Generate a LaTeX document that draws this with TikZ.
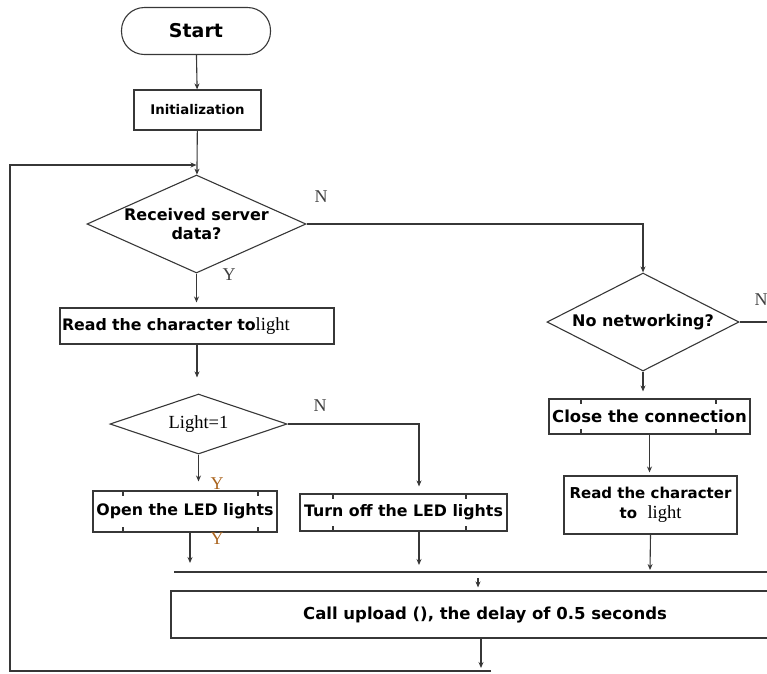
\documentclass[tikz,border=0pt]{standalone}
\usepackage{fontspec}
\setmainfont{Liberation Serif}
\newfontfamily\boldsans{DejaVu Sans}
\usetikzlibrary{arrows.meta,shapes.geometric}
\definecolor{ln}{RGB}{55,55,55}
\definecolor{ylab}{RGB}{170,100,30}
\tikzset{
  arr/.style={-{Stealth[length=6pt,width=5pt]}},
  bs/.style={font=\boldsans\bfseries\fontsize{15.8}{18}\selectfont},
  bsl/.style={font=\boldsans\bfseries\fontsize{16.5}{18}\selectfont},
  box/.style={draw=ln,rectangle,inner sep=1pt,bs},
  dia/.style={draw=ln,diamond,inner sep=0pt,bs},
  lab/.style={font=\fontsize{18}{19}\selectfont,inner sep=0pt,text=black!75},
  tickbox/.style 2 args={box,path picture={
     \draw[line width=1.1pt] ([xshift=#1]path picture bounding box.north west) -- ++(0,-5pt);
     \draw[line width=1.1pt] ([xshift=-#2]path picture bounding box.north east) -- ++(0,-5pt);
     \draw[line width=1.1pt] ([xshift=#1]path picture bounding box.south west) -- ++(0,5pt);
     \draw[line width=1.1pt] ([xshift=-#2]path picture bounding box.south east) -- ++(0,5pt);
  }},
}
\begin{document}
\begin{tikzpicture}[x=1pt,y=-1pt,line width=1.1pt,color=ln,every node/.style={text=black}]
\useasboundingbox (0,0) rectangle (767,673);
\clip (0,0) rectangle (767,673);
% nodes
\node[draw=ln,rounded corners=23pt,minimum width=149pt,minimum height=47pt,
  font=\boldsans\bfseries\fontsize{19}{22}\selectfont] (start) at (196,31) {Start};
\node[box,minimum width=127pt,minimum height=40pt,font=\boldsans\bfseries\fontsize{13.3}{15}\selectfont] (init) at (197.5,110) {Initialization};
\node[dia,minimum width=219pt,minimum height=98pt,shape aspect=2.23,inner sep=-3pt,align=center,font=\boldsans\bfseries\fontsize{16}{19}\selectfont] (d1) at (196.5,224) {Received server\\data?};
\node[box,minimum width=274pt,minimum height=36pt,text width=270pt,align=left] (read1) at (197,326) {Read the character to{\rmfamily\mdseries\fontsize{18.5}{20}\selectfont light}};
\node[dia,minimum width=177pt,minimum height=60pt,shape aspect=2.95,font=\fontsize{18.5}{20}\selectfont] (d3) at (198.5,424) {Light=1};
\node[tickbox={30pt}{19pt},minimum width=184pt,minimum height=41pt,inner sep=0pt] (open) at (185,511.5) {Open the LED lights};
\node[tickbox={33pt}{41pt},minimum width=207pt,minimum height=37pt,inner sep=0pt] (off) at (403.5,512.5) {Turn off the LED lights};
\node[dia,minimum width=192pt,minimum height=98pt,shape aspect=1.96,inner sep=-3pt,font=\boldsans\bfseries\fontsize{16}{19}\selectfont] (d2) at (643,322) {No networking?};
\node[tickbox={32pt}{34pt},minimum width=201pt,minimum height=35pt,inner sep=0pt,bsl] (close) at (649.5,416.5) {Close the connection};
\node[box,minimum width=173pt,minimum height=58pt,align=center,font=\boldsans\bfseries\fontsize{15}{20}\selectfont] (read2) at (650.5,505) {Read the character\\to~~{\rmfamily\mdseries\fontsize{18.5}{20}\selectfont light}};
\node[box,minimum width=628pt,minimum height=47pt,bsl] (upload) at (485,614.5) {Call upload (), the delay of 0.5 seconds};
% coordinates
\coordinate (openE) at (190,563);
\coordinate (offE) at (419,565);
\coordinate (busL) at (174,572);
\coordinate (busR) at (767,572);
\coordinate (upT) at (478,578);
\coordinate (read2E) at (650,570);
\coordinate (upB) at (481,668);
\coordinate (loopR) at (491,671);
\coordinate (loopL) at (10,671);
\coordinate (loopT) at (10,165);
\coordinate (d2R) at (767,322);
% connectors
\draw[arr] (start) -- (init);
\draw[arr] (init) -- (d1);
\draw[arr] (loopR) -- (loopL) -- (loopT) -- (loopT -| d1.north);
\draw[arr] (d1.east) -| (d2.north);
\draw[arr,shorten >=5pt] (d1.south) -- (read1.north -| d1.south);
\draw[arr,shorten >=16pt] (read1.south) -- (read1.south |- d3.north);
\draw[arr,shorten >=9pt] (d3.south) -- (d3.south |- open.north);
\draw[arr,shorten >=7pt] (d3.east) -| (off.north -| offE);
\draw[arr] (open.south -| openE) -- (openE);
\draw[arr] (off.south -| offE) -- (offE);
\draw (busL) -- (busR);
\draw[arr,shorten >=3pt] (upT) -- (upT |- upload.north);
\draw[arr] (upload.south -| upB) -- (upB);
\draw[arr,shorten >=7pt] (d2.south) -- (close.north -| d2.south);
\draw[arr,shorten >=3pt] (close.south) -- (close.south |- read2.north);
\draw[arr] (read2.south) -- (read2E);
\draw (d2.east) -- (d2R);
% labels
\node[lab] (n1) at (321,197) {N};
\node[lab] (y1) at (229,275) {Y};
\node[lab] (n3) at (320,406) {N};
\node[lab,text=ylab] (y3) at (217,484) {Y};
\node[lab,text=ylab] (y4) at (217,539) {Y};
\node[lab] (n2) at (761,300) {N};
\end{tikzpicture}
\end{document}
